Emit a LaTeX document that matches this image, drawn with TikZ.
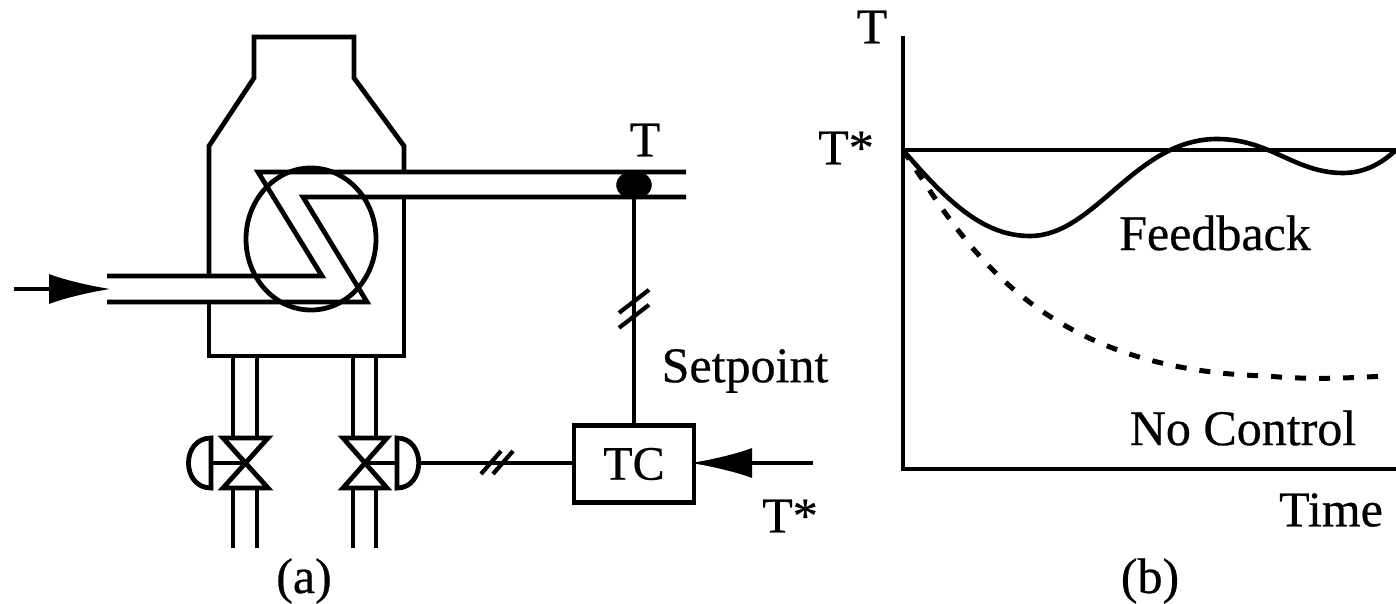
\documentclass[tikz,border=0pt]{standalone}
\usepackage{fontspec}
\setmainfont{Liberation Serif}[FakeBold=0.5]
\usetikzlibrary{arrows.meta,shapes.geometric}
\tikzset{
  ln/.style={line width=4.8pt,line join=miter,black},
  thin ln/.style={line width=4.2pt,black},
  bigarrow/.style={line width=4.2pt,black,shorten >=-4pt,-{Latex[length=62pt,width=30pt]}},
  lbl/.style={inner sep=0pt,font=\fontsize{50}{54}\selectfont},
  box/.style={draw,line width=4.2pt,outer sep=0pt,minimum width=120pt,minimum height=77pt,inner sep=0pt,font=\fontsize{48}{52}\selectfont},
  slash/.style={line width=4.2pt,black}
}
\begin{document}
\begin{tikzpicture}[x=1pt,y=-1pt]
\useasboundingbox (0,0) rectangle (1396,604);
% furnace
\draw[ln] (404,172) -- (404,146) -- (354,78) -- (354,37) -- (254,37) -- (254,78) -- (209,146) -- (209,276);
\draw[ln] (209,302) -- (209,356) -- (404,356) -- (404,197);
% coil
\node[draw,ellipse,line width=4.8pt,outer sep=0pt,minimum width=130pt,minimum height=142pt,inner sep=0pt] (coil) at (311,239) {};
\coordinate (u0) at (686,172); \coordinate (u1) at (258,172); \coordinate (u2) at (322,276); \coordinate (u3) at (107,276);
\coordinate (l0) at (686,197); \coordinate (l1) at (303,197); \coordinate (l2) at (367,302); \coordinate (l3) at (107,302);
\draw[ln] (u0) -- (u1) -- (u2) -- (u3);
\draw[ln] (l0) -- (l1) -- (l2) -- (l3);
% inlet arrow
\coordinate (inS) at (14,289); \coordinate (inE) at (107,289);
\draw[bigarrow] (inS) -- (inE);
% sensor
\node[draw,fill=black,ellipse,outer sep=0pt,minimum width=35pt,minimum height=28pt,inner sep=0pt] (sensor) at (634,185) {};
\node[lbl] (tlab) at (645,140) {T};
% controller
\node[box] (tc) at (634,464) {TC};
\draw[thin ln] (sensor.center) -- (tc.north -| sensor.center) coordinate[pos=0.49] (m1);
\draw[slash] ([shift={(-15,10)}]m1) -- ([shift={(15,-13)}]m1);
\draw[slash] ([shift={(-15,25)}]m1) -- ([shift={(15,2)}]m1);
\coordinate (spS) at (813,463);
\draw[bigarrow] (spS) -- (tc.east |- spS);
\node[lbl] (setp) at (745,371) {Setpoint};
\node[lbl] (tstar) at (790,516) {T*};
% left valve
\draw[ln] (233,356) -- (233,438); \draw[ln] (257,356) -- (257,438);
\draw[ln] (233,488) -- (233,548); \draw[ln] (257,488) -- (257,548);
\coordinate (v1) at (245,463);
\draw[ln] (223,438) -- (268,438) -- (223,488) -- (268,488) -- cycle;
\draw[ln] (211,463) -- (v1);
\draw[ln] (211,438) -- (211,488) .. controls (181,488) and (181,438) .. (211,438) -- cycle;
% right valve
\draw[ln] (353,356) -- (353,438); \draw[ln] (376,356) -- (376,438);
\draw[ln] (353,488) -- (353,548); \draw[ln] (376,488) -- (376,548);
\coordinate (v2) at (365,463);
\draw[ln] (343,438) -- (387,438) -- (343,488) -- (387,488) -- cycle;
\draw[ln] (397,463) -- (v2);
\draw[ln] (397,438) -- (397,488) .. controls (426,488) and (426,438) .. (397,438) -- cycle;
\coordinate (act) at (418,463);
\draw[thin ln] (act) -- (tc.west |- act) coordinate[pos=0.5] (m2);
\draw[slash] ([shift={(-15,11)}]m2) -- ([shift={(5,-12)}]m2);
\draw[slash] ([shift={(-3,11)}]m2) -- ([shift={(17,-12)}]m2);
\node[lbl] (a) at (304,581) {(a)};
% plot
\coordinate (o) at (903,469);
\draw[ln] (903,36) -- (o) -- (1396,469);
\draw[ln] (903,150) -- (1396,150);
\draw[line width=4.6pt] (903,150) .. controls (950,205) and (985,236) .. (1030,236)
  .. controls (1095,236) and (1135,139) .. (1217,139)
  .. controls (1270,139) and (1295,173) .. (1343,173)
  .. controls (1365,173) and (1382,163) .. (1396,150);
\draw[line width=5pt,dash pattern=on 11pt off 13pt] (903,150) .. controls (960,235) and (1030,370) .. (1267,376) .. controls (1310,380) and (1350,378) .. (1385,376);
\node[lbl] (ty) at (872,27) {T};
\node[lbl] (tsy) at (846,148) {T*};
\node[lbl] (fb) at (1215,233) {Feedback};
\node[lbl] (nc) at (1243,428) {No Control};
\node[lbl] (time) at (1331,510) {Time};
\node[lbl] (b) at (1150,581) {(b)};
\end{tikzpicture}
\end{document}
